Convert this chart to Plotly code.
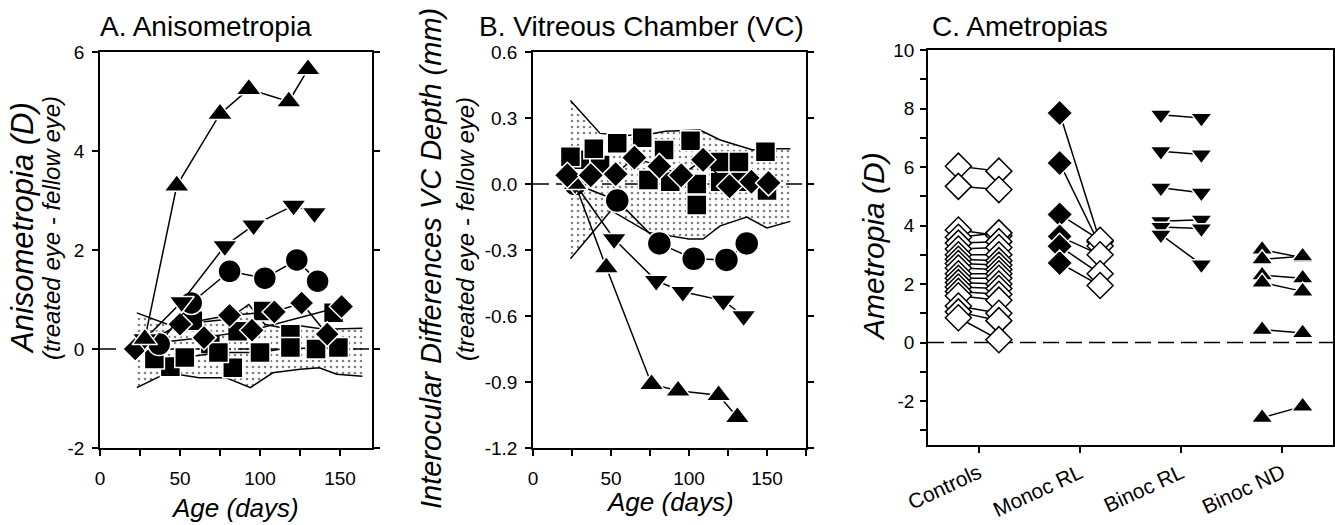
import plotly.graph_objects as go

FONT = "Liberation Sans, Arial, sans-serif"
W, H = 1335, 525

# ---------------- Panel A: Anisometropia ----------------
a_band_up_age = [23, 42, 55, 65, 80, 93, 103, 115, 125, 140, 164]
a_band_up_val = [0.73, 0.5, 0.45, 0.55, 0.6, 0.9, 0.5, 0.42, 0.47, 0.4, 0.42]
a_band_lo_age = [23, 42, 62, 79, 94, 108, 125, 137, 148, 164]
a_band_lo_val = [-0.78, -0.48, -0.58, -0.58, -0.78, -0.48, -0.41, -0.38, -0.51, -0.55]

a_sq1_age = [34, 53, 74, 100, 119, 135, 149]
a_sq1_val = [-0.2, -0.17, -0.07, -0.07, 0.03, 0.0, 0.03]
a_sq2_age = [44, 58, 69, 83, 86, 102, 119, 146]
a_sq2_val = [-0.36, 0.57, 0.1, -0.38, 0.36, 0.77, 0.3, 0.73]

a_dm1_age = [22, 50, 81, 109, 126, 142]
a_dm1_val = [0.0, 0.5, 0.68, 0.75, 0.93, 0.3]
a_dm2_age = [37, 65, 95, 151]
a_dm2_val = [0.13, 0.23, 0.38, 0.86]

a_circ_age = [37, 57, 81, 103, 123, 136]
a_circ_val = [0.1, 0.93, 1.57, 1.43, 1.8, 1.37]

a_dn_age = [28, 51, 78, 96, 121, 134]
a_dn_val = [0.2, 0.95, 2.08, 2.5, 2.9, 2.75]

a_up_age = [28, 48, 75, 93, 118, 130]
a_up_val = [0.2, 3.3, 4.75, 5.25, 5.0, 5.65]

a_yticks = [-2, 0, 2, 4, 6]
a_yticktext = ["-2", "0", "2", "4", "6"]

# ---------------- Panel B: Vitreous chamber ----------------
b_band_up_age = [24, 43, 60, 77, 85, 107, 120, 141, 150, 165]
b_band_up_val = [0.38, 0.23, 0.22, 0.23, 0.24, 0.245, 0.20, 0.155, 0.16, 0.16]
b_band_lo_age = [24, 50, 74, 100, 109, 120, 137, 150, 165]
b_band_lo_val = [-0.34, -0.12, -0.22, -0.25, -0.25, -0.19, -0.15, -0.2, -0.17]

b_sq1_age = [24, 39, 54, 70, 84, 101, 120, 132, 149]
b_sq1_val = [0.124, 0.16, 0.185, 0.21, 0.155, 0.197, 0.10, 0.10, 0.147]
b_sq2_age = [30, 43, 74, 88, 105, 105, 120, 133, 150]
b_sq2_val = [0.11, 0.086, 0.018, 0.01, 0.0, -0.095, 0.01, 0.01, -0.03]

b_dm_age = [22, 37, 53, 65, 81, 95, 109, 126, 140, 151]
b_dm_val = [0.04, 0.04, 0.045, 0.12, 0.08, 0.04, 0.11, -0.01, 0.01, 0.005]

b_circ_age = [27, 54, 81, 103, 124, 137]
b_circ_val = [0.0, -0.075, -0.27, -0.34, -0.345, -0.27]

b_dn_age = [27, 52, 79, 96, 122, 135]
b_dn_val = [0.0, -0.25, -0.44, -0.49, -0.53, -0.60]

b_up_age = [27, 47, 76, 93, 119, 131]
b_up_val = [0.0, -0.38, -0.91, -0.94, -0.96, -1.06]

b_yticks = [-1.2, -0.9, -0.6, -0.3, 0.0, 0.3, 0.6]
b_yticktext = ["-1.2", "-0.9", "-0.6", "-0.3", "0.0", "0.3", "0.6"]

# ---------------- Panel C: Ametropias ----------------
c_categories = ["Controls", "Monoc RL", "Binoc RL", "Binoc ND"]
c_ctrl_left = [6.03, 5.34, 3.85, 3.6, 3.4, 3.2, 3.0, 2.85, 2.7, 2.55, 2.35, 2.2, 2.05, 1.9, 1.75, 1.6, 1.25, 1.05, 0.85]
c_ctrl_right = [5.86, 5.23, 3.65, 3.75, 3.45, 3.25, 3.0, 2.8, 2.65, 2.5, 2.35, 2.2, 2.0, 1.85, 1.65, 1.45, 1.0, 0.75, 0.1]
c_mono_left = [7.85, 6.14, 4.38, 3.63, 3.29, 2.72]
c_mono_right = [3.45, 3.3, 3.5, 3.0, 2.35, 1.95]
c_brl_left = [7.79, 6.54, 5.29, 4.15, 3.95, 3.69]
c_brl_right = [7.68, 6.43, 5.12, 4.2, 3.9, 2.67]
c_bnd_left = [3.18, 2.85, 2.3, 2.05, 0.44, -2.57]
c_bnd_right = [2.9, 2.95, 2.2, 1.75, 0.33, -2.18]

c_yticks = [-2, 0, 2, 4, 6, 8, 10]
c_yticktext = ["-2", "0", "2", "4", "6", "8", "10"]

fig = go.Figure()

LW = 1.5


def band(xa, ya, lo_x, lo_y, up_x, up_y):
    fig.add_trace(go.Scatter(x=lo_x, y=lo_y, mode="lines", line=dict(color="black", width=LW),
                             xaxis=xa, yaxis=ya, hoverinfo="skip"))
    fig.add_trace(go.Scatter(x=up_x, y=up_y, mode="lines", line=dict(color="black", width=LW),
                             fill="tonexty", fillcolor="white",
                             fillpattern=dict(shape=".", fgcolor="black", bgcolor="white",
                                              size=6, solidity=0.15),
                             xaxis=xa, yaxis=ya, hoverinfo="skip"))


def zero_line(xa, ya, x0, x1):
    fig.add_trace(go.Scatter(x=[x0, x1], y=[0, 0], mode="lines",
                             line=dict(color="black", width=LW, dash="16px,7px"),
                             xaxis=xa, yaxis=ya, hoverinfo="skip"))


def series(xa, ya, x, y, symbol, size, mode="lines+markers"):
    fig.add_trace(go.Scatter(x=x, y=y, mode=mode,
                             line=dict(color="black", width=LW),
                             marker=dict(symbol=symbol, size=size, color="black",
                                         line=dict(color="white", width=1.5)),
                             xaxis=xa, yaxis=ya))


# Panel A
band("x", "y", a_band_lo_age, a_band_lo_val, a_band_up_age, a_band_up_val)
zero_line("x", "y", 0, 170)
series("x", "y", a_sq2_age, a_sq2_val, "square", 20, mode="markers")
series("x", "y", a_sq1_age, a_sq1_val, "square", 20)
series("x", "y", a_dm2_age, a_dm2_val, "diamond", 19)
series("x", "y", a_dm1_age, a_dm1_val, "diamond", 19)
series("x", "y", a_circ_age, a_circ_val, "circle", 23)
series("x", "y", a_dn_age, a_dn_val, "triangle-down", 22)
series("x", "y", a_up_age, a_up_val, "triangle-up", 22)

# Panel B
band("x2", "y2", b_band_lo_age, b_band_lo_val, b_band_up_age, b_band_up_val)
zero_line("x2", "y2", 0, 175)
series("x2", "y2", b_circ_age, b_circ_val, "circle", 24)
series("x2", "y2", b_dn_age, b_dn_val, "triangle-down", 22)
series("x2", "y2", b_up_age, b_up_val, "triangle-up", 22)
series("x2", "y2", b_sq2_age, b_sq2_val, "square", 20, mode="markers")
series("x2", "y2", b_sq1_age, b_sq1_val, "square", 20, mode="markers")
series("x2", "y2", b_dm_age, b_dm_val, "diamond", 20)

# Panel C
zero_line("x3", "y3", -0.5, 3.5)
groups = [
    (0, c_ctrl_left, c_ctrl_right, "diamond-open", "diamond-open"),
    (1, c_mono_left, c_mono_right, "diamond", "diamond-open"),
    (2, c_brl_left, c_brl_right, "triangle-down", "triangle-down"),
    (3, c_bnd_left, c_bnd_right, "triangle-up", "triangle-up"),
]
OFF = 0.2
for gi, left, right, ls, rs in groups:
    for a, b in zip(left, right):
        fig.add_trace(go.Scatter(x=[gi - OFF, gi + OFF], y=[a, b], mode="lines",
                                 line=dict(color="black", width=LW),
                                 xaxis="x3", yaxis="y3", hoverinfo="skip"))


def cmarkers(x, y, sym):
    if sym == "diamond-open":
        m = dict(symbol="diamond", size=20, color="white", line=dict(color="black", width=1.5))
    elif sym == "diamond":
        m = dict(symbol="diamond", size=20, color="black", line=dict(color="white", width=1.5))
    else:
        m = dict(symbol=sym, size=19, color="black", line=dict(color="white", width=1.5))
    fig.add_trace(go.Scatter(x=x, y=y, mode="markers", marker=m, xaxis="x3", yaxis="y3"))


for gi, left, right, ls, rs in groups:
    cmarkers([gi - OFF] * len(left), left, ls)
    cmarkers([gi + OFF] * len(right), right, rs)

# ---------------- Axes ----------------
tickfont = dict(family=FONT, size=19, color="black")
common = dict(showline=True, linecolor="black", linewidth=1.5, showgrid=False, zeroline=False,
              ticks="outside", ticklen=6, tickwidth=1.5, tickcolor="black", tickfont=tickfont,
              automargin=False)

yA = (1 - 448 / H, 1 - 52 / H)
yC = (1 - 445 / H, 1 - 50 / H)

fig.update_layout(
    xaxis=dict(domain=[100 / W, 372 / W], range=[0, 170], tickvals=[0, 50, 100, 150], mirror=True,
               minor=dict(tickvals=[25, 75, 125], ticks="outside", ticklen=6, tickwidth=1.5, tickcolor="black"),
               anchor="y", ticklabelstandoff=6, **common),
    yaxis=dict(domain=list(yA), range=[-2, 6], tickvals=a_yticks, ticktext=a_yticktext, mirror="ticks",
               anchor="x", ticklabelstandoff=4, **common),
    xaxis2=dict(domain=[533 / W, 806 / W], range=[0, 175], tickvals=[0, 50, 100, 150], mirror=True,
                minor=dict(tickvals=[25, 75, 125, 175], ticks="outside", ticklen=6, tickwidth=1.5, tickcolor="black"),
                anchor="y2", ticklabelstandoff=6, **common),
    yaxis2=dict(domain=list(yA), range=[-1.2, 0.6], tickvals=b_yticks, ticktext=b_yticktext, mirror="ticks",
                anchor="x2", ticklabelstandoff=4, **common),
    xaxis3=dict(domain=[928 / W, 1333 / W], range=[-0.5, 3.5], tickvals=[0, 1, 2, 3], ticktext=c_categories,
                tickangle=-25, mirror=True, anchor="y3", ticklabelstandoff=0,
                **{**common, "tickfont": dict(family=FONT, size=21, color="black")}),
    yaxis3=dict(domain=list(yC), range=[-3.5, 10], tickvals=c_yticks, ticktext=c_yticktext, mirror="ticks",
                minor=dict(tickvals=[-3, -1, 1, 3, 5, 7, 9], ticks="outside", ticklen=6, tickwidth=1.5, tickcolor="black"),
                anchor="x3", ticklabelstandoff=2, **common),
)

# ---------------- Text ----------------
ann = []


def text(s, x, y, size, xanchor="center", angle=0, italic=False):
    if italic:
        s = "<i>" + s + "</i>"
    ann.append(dict(text=s, x=x / W, y=1 - y / H, xref="paper", yref="paper", xanchor=xanchor,
                    yanchor="middle", textangle=angle, showarrow=False,
                    font=dict(family=FONT, size=size, color="black")))


text("A. Anisometropia", 98, 27, 28, xanchor="left")
text("B. Vitreous Chamber (VC)", 477, 27, 28, xanchor="left")
text("C. Ametropias", 930, 27, 28, xanchor="left")

text("Anisometropia (D)", 22, 228, 31, angle=-90, italic=True)
text("(treated eye - fellow eye)", 51, 228, 24, angle=-90, italic=True)
text("Interocular Differences VC Depth (mm)", 431, 259, 29, angle=-90, italic=True)
text("(treated eye - fellow eye)", 465, 229, 24, angle=-90, italic=True)
text("Ametropia (D)", 873, 247, 30, angle=-90, italic=True)

text("Age (days)", 235, 508, 26, italic=True)
text("Age (days)", 670, 502, 26, italic=True)

fig.update_layout(width=W, height=H, margin=dict(l=0, r=0, t=0, b=0, pad=0, autoexpand=False),
                  showlegend=False,
                  plot_bgcolor="white", paper_bgcolor="white", annotations=ann,
                  font=dict(family=FONT, color="black"))

fig.write_html("out.html")
